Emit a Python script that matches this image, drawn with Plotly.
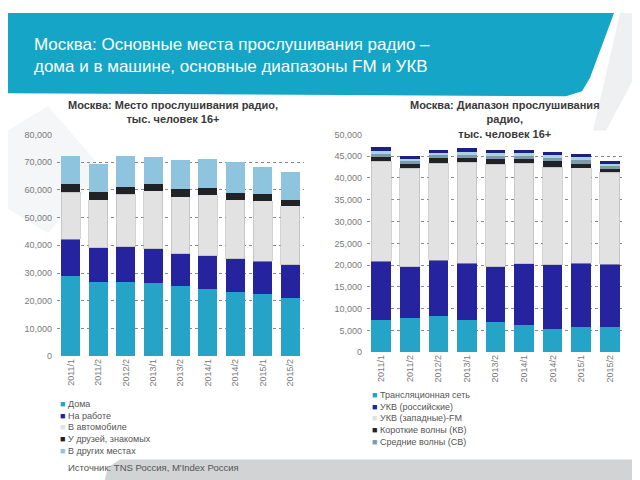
import plotly.graph_objects as go

periods = ['2011/1', '2011/2', '2012/2', '2013/1', '2013/2', '2014/1', '2014/2', '2015/1', '2015/2']

# левый график: место прослушивания, тыс. человек 16+ (значения в людях)
place_names = ['Дома', 'На работе', 'В автомобиле', 'У друзей, знакомых', 'В других местах']
home = [28800, 26700, 26900, 26300, 25500, 24300, 23100, 22300, 21100]
work = [13400, 12450, 12600, 12400, 11500, 11900, 12050, 12000, 11800]
car = [17000, 17350, 19000, 21000, 20500, 22000, 21250, 21700, 21400]
friends = [2800, 2700, 2600, 2300, 2700, 2600, 2500, 2500, 2100]
other_place = [10200, 10100, 11000, 10000, 10500, 10300, 11300, 9800, 10000]

# правый график: диапазон прослушивания
band_names = ['Трансляционная сеть', 'УКВ (российские)', 'УКВ (западные)-FM', 'Короткие волны (КВ)',
              'Средние волны (СВ)', 'Длинные волны (ДВ)', 'Затрудняюсь ответить']
wired = [7480, 7770, 8380, 7390, 6870, 6190, 5450, 5740, 5740]
vhf_ru = [13370, 11870, 12750, 12990, 12770, 14110, 14650, 14640, 14410]
fm = [22950, 22560, 22220, 23220, 23560, 23050, 22350, 21920, 21150]
sw = [1040, 1040, 1150, 900, 1050, 950, 1350, 1000, 800]
mw = [770, 770, 740, 800, 750, 700, 800, 750, 600]
lw = [600, 450, 600, 600, 750, 700, 700, 700, 600]
unknown = [900, 600, 680, 900, 750, 700, 700, 650, 500]

place_colors = ['#25a4c8', '#26239e', '#e2e2e2', '#202225', '#8ec4de']
band_colors = ['#25a4c8', '#26239e', '#e2e2e2', '#202225', '#7f9aa8', '#a9d2e5', '#1d2080']

W, H = 640, 480


def px(x, y):
    return x / W, 1 - y / H


def path(points):
    s = ''
    for i, (x, y) in enumerate(points):
        fx, fy = px(x, y)
        s += ('M' if i == 0 else 'L') + f' {fx:.4f},{fy:.4f} '
    return s + 'Z'


fig = go.Figure()

for name, vals, col in zip(place_names, [home, work, car, friends, other_place], place_colors):
    fig.add_trace(go.Bar(x=periods, y=vals, name=name, marker_color=col, showlegend=False,
                         marker_line=dict(width=0.6 if col == '#e2e2e2' else 0, color='#b5b5b5'),
                         xaxis='x', yaxis='y'))

for name, vals, col in zip(band_names, [wired, vhf_ru, fm, sw, mw, lw, unknown], band_colors):
    fig.add_trace(go.Bar(x=periods, y=vals, name=name, marker_color=col, showlegend=False,
                         marker_line=dict(width=0.6 if col == '#e2e2e2' else 0, color='#b5b5b5'),
                         xaxis='x2', yaxis='y2'))

axis_font = dict(size=9, color='#7a7a7a')
fig.update_layout(
    width=W, height=H,
    margin=dict(l=0, r=0, t=0, b=0),
    paper_bgcolor='white', plot_bgcolor='rgba(0,0,0,0)',
    font=dict(family='Liberation Sans, Arial, sans-serif'),
    barmode='stack', bargap=0.31,
    xaxis=dict(domain=[49 / W, 296 / W], tickangle=-90, tickfont=axis_font, showgrid=False,
               ticks='', showline=False),
    yaxis=dict(domain=[1 - 350.5 / H, 1 - 124 / H], range=[0, 80000], dtick=10000, tickformat=',d',
               tickfont=axis_font, gridcolor='#8a8a8a', griddash='dot', gridwidth=1, zeroline=False,
               ticklabelstandoff=4),
    xaxis2=dict(domain=[359 / W, 616 / W], tickangle=-90, tickfont=axis_font, showgrid=False,
                ticks='', showline=False, anchor='y2'),
    yaxis2=dict(domain=[1 - 346.5 / H, 1 - 124 / H], range=[0, 50000], dtick=5000, tickformat=',d',
                tickfont=axis_font, gridcolor='#8a8a8a', griddash='dot', gridwidth=1, zeroline=False,
                anchor='x2', ticklabelstandoff=4),
)

shapes = [
    # светлые фоновые фигуры
    dict(type='path', path=path([(0, 120), (40, 95), (95, 160), (40, 225), (0, 200)]),
         fillcolor='#f4f6f8'),
    dict(type='path', path=path([(612, 0), (640, 0), (640, 40), (598, 120), (585, 120)]),
         fillcolor='#eef0f2'),
    # шапка
    dict(type='path', path=path([(0, 0), (606, 0), (582, 66), (574, 80), (558, 85), (0, 82)]),
         fillcolor='#14a5c7'),
    # нижняя плашка
    dict(type='path', path=path([(96, 480), (100, 464), (112, 456), (640, 456), (640, 480)]),
         fillcolor='#d2d3d4'),
]
for s in shapes:
    s.update(xref='paper', yref='paper', line_width=0, layer='below')
fig.update_layout(shapes=shapes)


def legend_text(names, colors):
    rows = []
    for n, c in zip(names, colors):
        rows.append(f'<span style="color:{c}">■</span> {n}')
    return '<br>'.join(rows)


ann = [
    dict(text='Москва: Основные места прослушивания радио –<br>дома и в машине, основные диапазоны FM и УКВ',
         x=24 / W, y=1 - 20 / H, xanchor='left', yanchor='top', align='left',
         font=dict(size=17, color='white', family='Liberation Sans Narrow, Liberation Sans, Arial')),
    dict(text='<b>Москва: Место прослушивания радио,<br>тыс. человек 16+</b>',
         x=165 / W, y=1 - 101.5 / H, xanchor='center', yanchor='middle',
         font=dict(size=11, color='#3a3a3a')),
    dict(text='<b>Москва: Диапазон прослушивания<br>радио,<br>тыс. человек 16+</b>',
         x=497 / W, y=1 - 109 / H, xanchor='center', yanchor='middle',
         font=dict(size=11, color='#3a3a3a')),
    dict(text=legend_text(place_names, place_colors),
         x=50 / W, y=1 - 392 / H, xanchor='left', yanchor='top', align='left',
         font=dict(size=9, color='#555555')),
    dict(text=legend_text(band_names[:5], band_colors[:5]),
         x=362 / W, y=1 - 383 / H, xanchor='left', yanchor='top', align='left',
         font=dict(size=9, color='#555555')),
    dict(text='Источник: TNS Россия, M\'Index Россия',
         x=58 / W, y=1 - 464 / H, xanchor='left', yanchor='middle',
         font=dict(size=9.5, color='#555555')),
]
for a in ann:
    a.update(xref='paper', yref='paper', showarrow=False)
fig.update_layout(annotations=ann)

fig.write_html('out.html')
